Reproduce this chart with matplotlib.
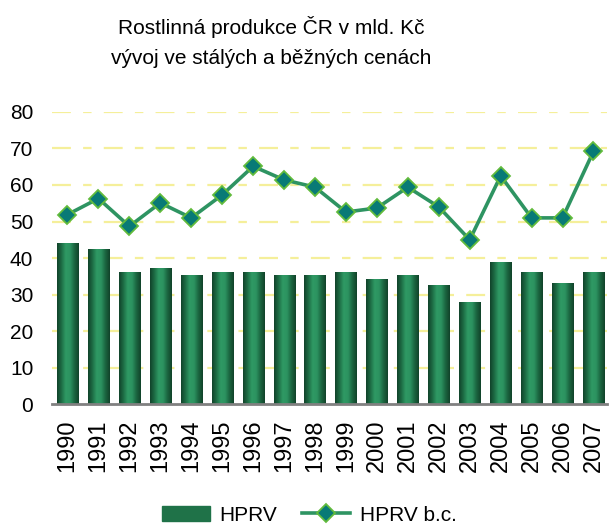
import numpy as np
import matplotlib.pyplot as plt
from matplotlib.colors import LinearSegmentedColormap
from matplotlib.lines import Line2D
from matplotlib.patches import Rectangle

plt.rcParams['font.family'] = ['Liberation Sans', 'DejaVu Sans']

# data
years = ['1990', '1991', '1992', '1993', '1994', '1995', '1996', '1997', '1998',
         '1999', '2000', '2001', '2002', '2003', '2004', '2005', '2006', '2007']
hprv = [44.1, 42.5, 36.2, 37.3, 35.4, 36.2, 36.2, 35.4, 35.4,
        36.2, 34.3, 35.4, 32.7, 28.1, 39.0, 36.2, 33.2, 36.2]
hprv_bc = [51.9, 56.3, 48.7, 55.1, 51.0, 57.3, 65.1, 61.4, 59.4,
           52.6, 53.7, 59.4, 54.0, 45.0, 62.5, 51.0, 51.0, 69.2]
yticks = [0, 10, 20, 30, 40, 50, 60, 70, 80]

bar_dark = '#134a2d'
bar_cmap = LinearSegmentedColormap.from_list(
    'cyl', ['#11432a', '#1d6d45', '#2f9a64', '#2c9260', '#1b6640', '#11432a'])
line_col = '#2e9462'
mk_face = '#087a76'
mk_edge = '#62bb3c'
grid_col = '#f5ef9a'

fig = plt.figure(figsize=(6.09, 5.30), dpi=100)
ax = fig.add_axes([0.0854, 0.237, 0.912, 0.552])

x = np.arange(len(years))
bars = ax.bar(x, hprv, width=0.68, color=bar_dark, zorder=2)

# cylinder-like shading for each bar
grad = np.linspace(0, 1, 64).reshape(1, -1)
for b in bars:
    x0, w, h = b.get_x(), b.get_width(), b.get_height()
    im = ax.imshow(grad, cmap=bar_cmap, aspect='auto', extent=[x0, x0 + w, 0, h],
                   zorder=3, interpolation='bilinear')
    im.set_clip_path(b)

ax.plot(x, hprv_bc, color=line_col, lw=2.6, marker='D', ms=9.5,
        markerfacecolor=mk_face, markeredgecolor=mk_edge, markeredgewidth=1.3, zorder=5)

ax.set_xlim(-0.5, 17.45)
ax.set_ylim(0, 80)
ax.set_yticks(yticks)
ax.set_yticklabels([str(v) for v in yticks], fontsize=15)
ax.set_xticks(x)
ax.set_xticklabels(years, rotation=90, fontsize=17)
ax.tick_params(axis='x', length=0, pad=11)
ax.tick_params(axis='y', length=0, pad=13.5)

for v in yticks[1:]:
    ax.axhline(v, color=grid_col, lw=1.6, ls=(0, (8.5, 5.5, 3.8, 5.5)), zorder=1)

for s in ['left', 'right', 'top']:
    ax.spines[s].set_visible(False)
ax.spines['bottom'].set_color('#808080')
ax.spines['bottom'].set_linewidth(2)
ax.spines['bottom'].set_zorder(6)

fig.text(0.445, 0.950, 'Rostlinná produkce ČR v mld. Kč', ha='center', va='center', fontsize=15)
fig.text(0.445, 0.890, 'vývoj ve stálých a běžných cenách', ha='center', va='center', fontsize=15)

handles = [Rectangle((0, 0), 1, 1, color='#1f7248'),
           Line2D([], [], color=line_col, lw=2.6, marker='D', ms=9.5,
                  markerfacecolor=mk_face, markeredgecolor=mk_edge, markeredgewidth=1.3)]
fig.legend(handles, ['HPRV', 'HPRV b.c.'], loc='center', bbox_to_anchor=(0.508, 0.028),
           ncol=2, frameon=False, fontsize=15, handlelength=2.3, handletextpad=0.45,
           columnspacing=1.2)

fig.savefig('out.png', dpi=100)
